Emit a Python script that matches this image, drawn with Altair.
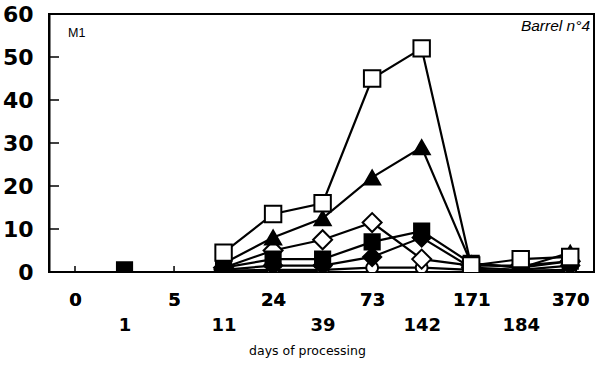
import json
import altair as alt
import pandas as pd

# Sampling days (categorical positions on the x axis)
days = ["0", "1", "5", "11", "24", "39", "73", "142", "171", "184", "370"]

# Measured values per series (None = not measured)
open_square = [None, None, None, 4.5, 13.5, 16.0, 45.0, 52.0, 1.5, 3.0, 3.5]
filled_triangle = [None, None, None, 2.0, 8.0, 12.5, 22.0, 29.0, 2.0, 1.0, 4.5]
open_diamond = [None, None, None, 1.0, 5.0, 7.5, 11.5, 3.0, 1.5, 1.5, 2.5]
filled_square = [None, 0.5, None, 1.0, 3.0, 3.0, 7.0, 9.5, 2.0, 1.0, 2.5]
filled_diamond = [None, None, None, 0.5, 1.5, 1.5, 3.5, 8.0, 1.0, 0.5, 1.5]
open_circle = [None, None, None, 0.3, 0.5, 0.5, 1.0, 1.0, 0.5, 0.3, 0.5]

y_ticks = [0, 10, 20, 30, 40, 50, 60]

# Drawing order: bottom-most series first
series = {
    "open_circle": open_circle,
    "filled_diamond": filled_diamond,
    "open_diamond": open_diamond,
    "filled_square": filled_square,
    "filled_triangle": filled_triangle,
    "open_square": open_square,
}
names = list(series.keys())
shapes = ["circle", "diamond", "diamond", "square", "triangle-up", "square"]
fills = ["white", "black", "white", "black", "black", "white"]
sizes = [140, 330, 360, 230, 260, 270]

rows = []
order = 0
for name, vals in series.items():
    seg = 0
    for i, v in enumerate(vals):
        if v is None:
            seg += 1
            continue
        rows.append({"pos": i, "day": days[i], "series": name,
                     "value": v, "seg": f"{name}-{seg}", "order": order})
        order += 1
df = pd.DataFrame(rows)

W, H = 545, 258
x_scale = alt.Scale(domain=[-0.525, 10.48], nice=False, zero=False)
y_scale = alt.Scale(domain=[0, 60], nice=False)
label_array = json.dumps(days)

num_font = "DejaVu Sans"

x_axis_even = alt.Axis(
    orient="bottom", values=list(range(0, 11, 2)),
    labelExpr=f"{label_array}[datum.value]",
    labelFont=num_font, labelFontWeight="bold", labelFontSize=18,
    labelColor="black", labelPadding=19, labelBaseline="top",
    tickSize=0, domain=False, grid=False, title=None,
)
x_axis_odd = alt.Axis(
    orient="bottom", values=list(range(1, 11, 2)),
    labelExpr=f"{label_array}[datum.value]",
    labelFont=num_font, labelFontWeight="bold", labelFontSize=18,
    labelColor="black", labelPadding=44, labelBaseline="top",
    tickSize=0, domain=False, grid=False,
    title="days of processing", titleFont=num_font, titleFontSize=12.5,
    titleFontWeight="normal", titleColor="black",
    titleX=258, titleY=82, titleAlign="center", titleBaseline="alphabetic",
)
y_axis = alt.Axis(
    values=y_ticks, labelFont=num_font, labelFontWeight="bold",
    labelFontSize=22, labelColor="black", labelPadding=16,
    tickSize=0, domainColor="black", domainWidth=2, grid=False, title=None,
)

# Inward tick marks along the bottom edge, one per sampling day
x_tick_df = pd.DataFrame({"pos": list(range(len(days)))})
x_ticks = alt.Chart(x_tick_df).mark_rule(color="black", strokeWidth=1.5).encode(
    x=alt.X("pos:Q", scale=x_scale, axis=x_axis_odd),
    y=alt.value(H),
    y2=alt.value(H - 6),
)

# Inward tick marks along the left edge
y_tick_df = pd.DataFrame({"v": y_ticks[1:-1]})
y_tick_marks = alt.Chart(y_tick_df).mark_rule(color="black", strokeWidth=1.5).encode(
    y=alt.Y("v:Q", scale=y_scale, axis=y_axis),
    x=alt.value(0),
    x2=alt.value(10),
)

base = alt.Chart(df)

lines = base.mark_line(color="black", strokeWidth=2.2, clip=True).encode(
    x=alt.X("pos:Q", scale=x_scale, axis=x_axis_even),
    y=alt.Y("value:Q", scale=y_scale, axis=y_axis),
    detail="seg:N",
)

points = base.mark_point(
    filled=True, stroke="black", strokeWidth=2, opacity=1,
    fillOpacity=1, strokeOpacity=1, clip=True,
).encode(
    x=alt.X("pos:Q", scale=x_scale, axis=x_axis_even),
    y=alt.Y("value:Q", scale=y_scale, axis=y_axis),
    shape=alt.Shape("series:N", scale=alt.Scale(domain=names, range=shapes), legend=None),
    fill=alt.Fill("series:N", scale=alt.Scale(domain=names, range=fills), legend=None),
    size=alt.Size("series:N",
                  scale=alt.Scale(type="ordinal", domain=names, range=sizes),
                  legend=None),
    order=alt.Order("order:Q"),
)

m1 = alt.Chart(pd.DataFrame({"t": ["M1"]})).mark_text(
    font="Liberation Sans", fontSize=12.5, align="left", baseline="alphabetic",
    color="black",
).encode(text="t:N", x=alt.value(19), y=alt.value(23))

barrel = alt.Chart(pd.DataFrame({"t": ["Barrel n°4"]})).mark_text(
    font="Liberation Sans", fontSize=15.5, fontStyle="italic", align="right",
    baseline="alphabetic", color="black",
).encode(text="t:N", x=alt.value(541), y=alt.value(17))

chart = (
    alt.layer(x_ticks, y_tick_marks, lines, points, m1, barrel)
    .resolve_axis(x="independent")
    .properties(
        width=W, height=H,
        autosize=alt.AutoSizeParams(type="none"),
        padding={"left": 49, "top": 14, "right": 2, "bottom": 97},
        background="white",
    )
    .configure_view(stroke="black", strokeWidth=2)
)

chart.save("out.html", embed_options={"renderer": "svg", "actions": False})
